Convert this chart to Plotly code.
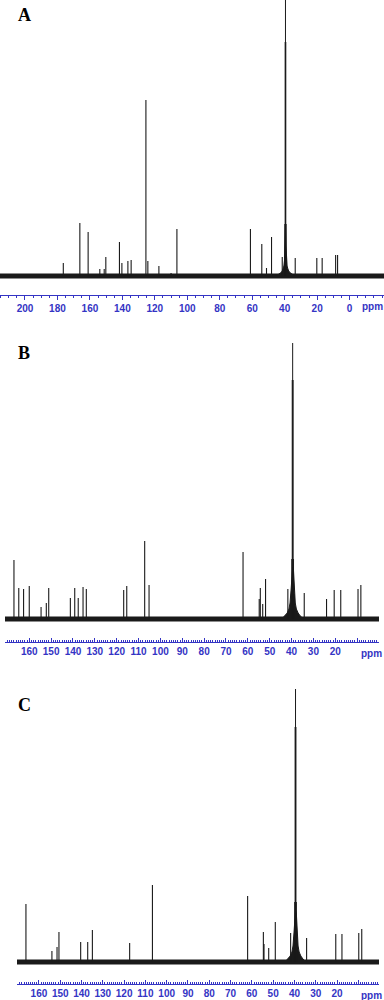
import plotly.graph_objects as go

W, H = 384, 1000

# ---------------- data (ppm, relative height) ----------------
# Spectrum A
a_peak_ppm = [176.4, 166.2, 161.1, 153.9, 151.2, 150.2, 141.8, 140.3, 136.6, 134.6,
              125.5, 124.3, 117.5, 110.0, 106.4, 61.1, 54.1, 51.2, 48.1, 41.5,
              33.5, 20.2, 16.9, 8.6, 7.4]
a_peak_h = [13, 53, 44, 7, 7, 19, 34, 13, 15, 16,
            176, 15, 10, 3, 47, 47, 32, 8, 39, 19,
            18, 18, 18, 21, 21]
a_solv_ppm = [40.1, 39.9, 39.7, 39.5, 39.3, 39.1, 38.9]
a_solv_h = [20, 52, 234, 300, 234, 52, 20]
a_base_ppm = [45.5, 43.5, 42.5, 41.5, 41.0, 40.5, 40.1, 39.8, 39.5, 39.2, 38.9, 38.5, 38.0, 37.5, 36.5, 35.5, 33.5]
a_base_h = [0, 2, 3, 5, 7, 10, 16, 30, 50, 30, 16, 10, 7, 5, 3, 2, 0]

# Spectrum B
b_peak_ppm = [167.0, 164.8, 162.6, 160.0, 154.6, 152.2, 151.1, 141.2, 139.2, 137.6,
              135.4, 133.9, 116.8, 115.4, 107.2, 105.2, 62.2, 54.8, 54.3, 53.2,
              51.9, 41.7, 34.2, 24.0, 20.5, 17.5, 9.6, 8.3]
b_peak_h = [59, 31, 30, 33, 12, 16, 31, 21, 31, 21,
            32, 30, 29, 33, 78, 34, 67, 20, 31, 15,
            40, 30, 26, 20, 29, 29, 30, 34]
b_solv_ppm = [40.1, 39.9, 39.7, 39.5, 39.3, 39.1, 38.9]
b_solv_h = [25, 60, 239, 276, 239, 60, 25]
b_base_ppm = [44.5, 43.0, 42.0, 41.2, 40.7, 40.2, 39.9, 39.5, 39.1, 38.8, 38.3, 37.8, 37.0, 36.0, 34.5]
b_base_h = [0, 3, 6, 10, 16, 30, 48, 52, 48, 30, 16, 10, 6, 3, 0]

# Spectrum C
c_peak_ppm = [166.1, 153.9, 151.5, 150.6, 140.4, 137.1, 134.9, 117.4, 106.7, 62.0,
              54.6, 54.3, 52.1, 49.0, 41.8, 34.3, 20.6, 17.7, 9.8, 8.4]
c_peak_h = [58, 11, 15, 30, 20, 20, 32, 19, 77, 66,
            30, 18, 14, 40, 29, 24, 28, 28, 29, 33]
c_solv_ppm = [40.1, 39.9, 39.7, 39.5, 39.3, 39.1, 38.9]
c_solv_h = [25, 60, 235, 273, 235, 60, 25]
c_base_ppm = [44.5, 43.0, 42.0, 41.2, 40.7, 40.2, 39.9, 39.5, 39.1, 38.8, 38.3, 37.8, 37.0, 36.0, 34.5]
c_base_h = [0, 3, 6, 10, 16, 30, 48, 52, 48, 30, 16, 10, 6, 3, 0]

# axes: tick labels
a_ticks = [200, 180, 160, 140, 120, 100, 80, 60, 40, 20, 0]
bc_ticks = [160, 150, 140, 130, 120, 110, 100, 90, 80, 70, 60, 50, 40, 30, 20, 10]
bc_ticktext = [str(v) for v in bc_ticks[:-1]] + [""]
panel_labels = ["A", "B", "C"]

# ---------------- styling / layout params ----------------
BLUE = "#3434c4"
INK = "#1a1a1a"

panels = [
    dict(peaks=(a_peak_ppm, a_peak_h), solv=(a_solv_ppm, a_solv_h), base=(a_base_ppm, a_base_h),
         xr=[215.4, -21.2], xdom=[0, 1], ybot=295, ytop=0, ybase=276,
         tickvals=a_ticks, ticktext=[str(v) for v in a_ticks], ticks="outside", minor_dtick=5,
         label_xy=(24, 15), ppm_xy=(372, 306)),
    dict(peaks=(b_peak_ppm, b_peak_h), solv=(b_solv_ppm, b_solv_h), base=(b_base_ppm, b_base_h),
         xr=[171.1, 0.0], xdom=[5 / W, 379 / W], ybot=642, ytop=330, ybase=619,
         tickvals=bc_ticks, ticktext=bc_ticktext, ticks="inside", minor_dtick=1,
         label_xy=(24, 353), ppm_xy=(371, 653)),
    dict(peaks=(c_peak_ppm, c_peak_h), solv=(c_solv_ppm, c_solv_h), base=(c_base_ppm, c_base_h),
         xr=[170.3, 0.3], xdom=[17 / W, 379 / W], ybot=984, ytop=680, ybase=962,
         tickvals=bc_ticks, ticktext=bc_ticktext, ticks="inside", minor_dtick=1,
         label_xy=(24, 705), ppm_xy=(371, 995)),
]

fig = go.Figure()
layout = dict(width=W, height=H, margin=dict(l=0, r=0, t=0, b=0),
              paper_bgcolor="white", plot_bgcolor="white", showlegend=False)
annotations = []

for i, p in enumerate(panels):
    n = "" if i == 0 else str(i + 1)
    xa, ya = "x" + n, "y" + n
    # noise baseline band
    fig.add_trace(go.Scatter(x=[p["xr"][0], p["xr"][1]], y=[0, 0], mode="lines",
                             line=dict(color=INK, width=5), xaxis=xa, yaxis=ya, hoverinfo="skip"))
    # broad solvent base
    bx, bh = p["base"]
    fig.add_trace(go.Scatter(x=bx, y=bh, mode="lines", fill="toself", fillcolor=INK,
                             line=dict(color=INK, width=1), xaxis=xa, yaxis=ya, hoverinfo="skip"))
    # stick peaks
    for (px_, ph_), w in ((p["peaks"], 1.1), (p["solv"], 1.0)):
        xs, ys = [], []
        for xv, hv in zip(px_, ph_):
            xs += [xv, xv, None]
            ys += [0, hv, None]
        fig.add_trace(go.Scatter(x=xs, y=ys, mode="lines", line=dict(color=INK, width=w),
                                 xaxis=xa, yaxis=ya, hoverinfo="skip"))
    yr = [-(p["ybot"] - p["ybase"]), p["ybase"] - p["ytop"]]
    layout["xaxis" + n] = dict(
        domain=p["xdom"], range=p["xr"], anchor=ya, showgrid=False, zeroline=False,
        showline=True, linecolor=BLUE, linewidth=1,
        tickmode="array", tickvals=p["tickvals"], ticktext=p["ticktext"],
        ticks=p["ticks"], ticklen=4, tickcolor=BLUE, tickwidth=1,
        tickfont=dict(family="Liberation Sans, Arial", size=10, color=BLUE, weight="bold"),
        minor=dict(ticks=p["ticks"], ticklen=2, tickcolor=BLUE, dtick=p["minor_dtick"], tick0=0, showgrid=False),
    )
    layout["yaxis" + n] = dict(
        domain=[1 - p["ybot"] / H, 1 - p["ytop"] / H], range=yr, anchor=xa,
        visible=False, showgrid=False, zeroline=False,
    )
    lx, ly = p["label_xy"]
    annotations.append(dict(x=lx / W, y=1 - ly / H, xref="paper", yref="paper", text=panel_labels[i],
                            showarrow=False, xanchor="center", yanchor="middle",
                            font=dict(family="Liberation Serif, Times New Roman", size=18, color="black", weight="bold")))
    qx, qy = p["ppm_xy"]
    annotations.append(dict(x=qx / W, y=1 - qy / H, xref="paper", yref="paper", text="ppm",
                            showarrow=False, xanchor="center", yanchor="middle",
                            font=dict(family="Liberation Sans, Arial", size=10, color=BLUE, weight="bold")))

layout["annotations"] = annotations
fig.update_layout(**layout)
fig.write_html("out.html", config={"displayModeBar": False},
               post_script="document.body.style.margin='0';document.body.style.overflow='hidden';")
